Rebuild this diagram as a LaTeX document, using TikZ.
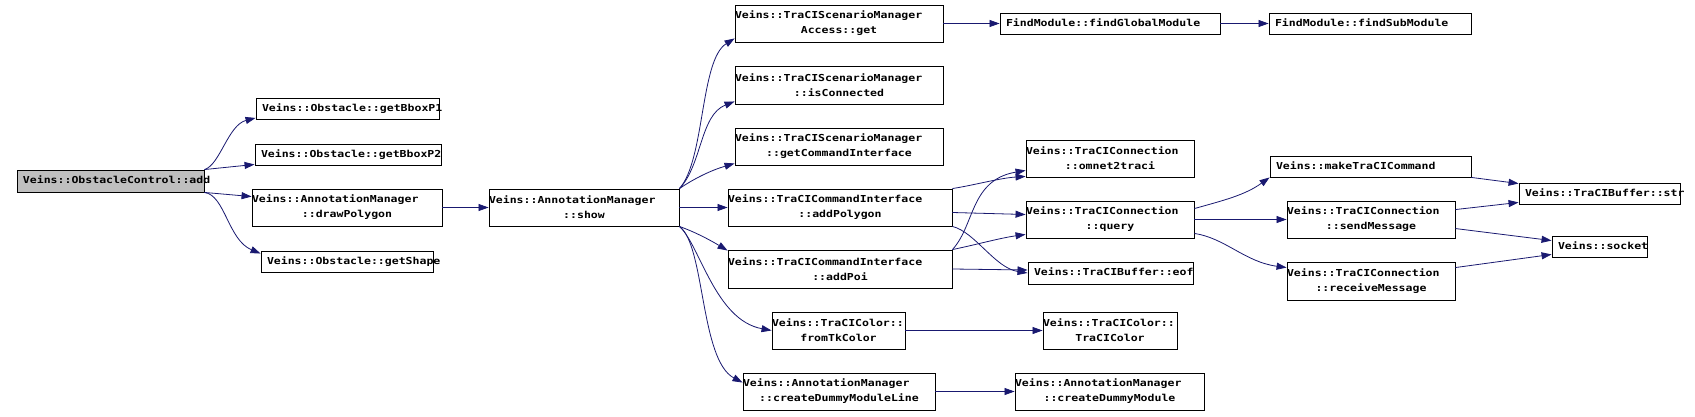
\documentclass[tikz,border=0pt]{standalone}
\usepackage{fontspec}
\usepackage{xcolor}
\usetikzlibrary{arrows.meta}

\newfontfamily\dotfont{DejaVu Sans Mono}[FakeStretch=1.2]
\definecolor{edgeblue}{RGB}{25,25,112}
\definecolor{nodegray}{RGB}{191,191,191}
\newcommand{\ctr}[1]{\makebox[\linewidth]{#1}}

\tikzset{
  fn/.style={draw=black, line width=0.9pt, inner ysep=0pt, align=left,
    font=\dotfont\bfseries\fontsize{9.6}{15}\selectfont},
  fnone/.style={fn, inner xsep=6pt, minimum height=21pt, text height=7.5pt, text depth=2pt},
  fntwo/.style={fn, inner xsep=0pt, minimum height=37pt},
  call/.style={draw=edgeblue, line width=0.8pt, -{Triangle[length=10pt,width=7pt]}}
}

\begin{document}
\begin{tikzpicture}[x=1pt,y=-1pt]
\useasboundingbox (0,0) rectangle (1695,417);

% caller
\node[fnone, fill=nodegray, text width=175pt, minimum height=22pt] (add) at (110.5,181) {Veins::ObstacleControl::add};

% first level
\node[fnone, text width=171pt] (bboxA) at (347.5,109) {Veins::Obstacle::getBboxP1};
\node[fnone, text width=174pt] (bboxB) at (348,154.5) {Veins::Obstacle::getBboxP2};
\node[fntwo, text width=190pt] (drawPoly) at (347,207.5) {Veins::AnnotationManager\\\ctr{::drawPolygon}};
\node[fnone, text width=160pt] (shape) at (347,261.5) {Veins::Obstacle::getShape};

\node[fntwo, text width=190pt] (show) at (584,207.5) {Veins::AnnotationManager\\\ctr{::show}};

% called from show
\node[fntwo, text width=208pt] (get) at (839,23.5) {Veins::TraCIScenarioManager\\\ctr{Access::get}};
\node[fntwo, text width=208pt, minimum height=38pt] (isConn) at (839,85) {Veins::TraCIScenarioManager\\\ctr{::isConnected}};
\node[fntwo, text width=208pt] (getCI) at (839,146.5) {Veins::TraCIScenarioManager\\\ctr{::getCommandInterface}};
\node[fntwo, text width=224pt] (addPolygon) at (840,207.5) {Veins::TraCICommandInterface\\\ctr{::addPolygon}};
\node[fntwo, text width=224pt, minimum height=38pt] (addPoi) at (840,269) {Veins::TraCICommandInterface\\\ctr{::addPoi}};
\node[fntwo, text width=133pt] (fromTk) at (838.5,330.5) {Veins::TraCIColor::\\\ctr{fromTkColor}};
\node[fntwo, text width=192pt] (createDML) at (839,391.5) {Veins::AnnotationManager\\\ctr{::createDummyModuleLine}};

\node[fnone, text width=208pt] (findGlobal) at (1110,23.5) {FindModule::findGlobalModule};
\node[fnone, text width=190pt] (findSub) at (1370,23.5) {FindModule::findSubModule};

\node[fntwo, text width=168pt] (omnet) at (1110,158.5) {Veins::TraCIConnection\\\ctr{::omnet2traci}};
\node[fntwo, text width=168pt] (query) at (1110,219.5) {Veins::TraCIConnection\\\ctr{::query}};
\node[fnone, text width=153pt, minimum height=22pt] (eof) at (1110.5,273) {Veins::TraCIBuffer::eof};
\node[fntwo, text width=134pt] (tkColor) at (1110,330.5) {Veins::TraCIColor::\\\ctr{TraCIColor}};
\node[fntwo, text width=189pt] (createDM) at (1109.5,391.5) {Veins::AnnotationManager\\\ctr{::createDummyModule}};

% called from query
\node[fnone, text width=189pt] (makeCmd) at (1370.5,166.5) {Veins::makeTraCICommand};
\node[fntwo, text width=168pt] (sendMsg) at (1371,219.5) {Veins::TraCIConnection\\\ctr{::sendMessage}};
\node[fntwo, text width=168pt, minimum height=38pt] (recvMsg) at (1371,281) {Veins::TraCIConnection\\\ctr{::receiveMessage}};

\node[fnone, text width=149pt] (str) at (1599.5,193.5) {Veins::TraCIBuffer::str};
\node[fnone, text width=83pt] (socket) at (1599.5,246.5) {Veins::socket};

% edges
\draw[call] (add.north east) .. controls (220,165) and (228,125) .. ([yshift=2pt]bboxA.south west);
\draw[call] (add.north east) -- ([yshift=1pt]bboxB.south west);
\draw[call] (add.south east) -- ([yshift=-8pt]drawPoly.north west);
\draw[call] (add.south east) .. controls (225,195) and (228,240) .. ([yshift=-3pt]shape.north west);
\draw[call] (drawPoly.east) -- (show.west);

\draw[call] (show.north east) .. controls (705,160) and (700,60) .. ([yshift=4pt]get.south west);
\draw[call] (show.north east) .. controls (702,165) and (700,115) .. ([yshift=3pt]isConn.south west);
\draw[call] (show.north east) .. controls (695,178) and (712,170) .. ([yshift=2pt]getCI.south west);
\draw[call] (show.east) -- (addPolygon.west);
\draw[call] (show.south east) .. controls (695,232) and (710,240) .. ([yshift=-1pt]addPoi.north west);
\draw[call] (show.south east) .. controls (700,245) and (715,320) .. (fromTk.west);
\draw[call] (show.south east) .. controls (705,245) and (700,360) .. ([yshift=-10pt]createDML.north west);

\draw[call] (get.east) -- (findGlobal.west);
\draw[call] (findGlobal.east) -- (findSub.west);

\draw[call] (addPolygon.north east) .. controls (975,185) and (1000,178) .. ([yshift=1pt]omnet.south west);
\draw[call] ([yshift=-5pt]addPolygon.east) -- ([yshift=5pt]query.west);
\draw[call] (addPolygon.south east) .. controls (975,232) and (995,268) .. (eof.west);
\draw[call] (addPoi.north east) .. controls (975,225) and (970,180) .. ([yshift=7pt]omnet.south west);
\draw[call] (addPoi.north east) .. controls (975,245) and (1000,238) .. ([yshift=4pt]query.south west);
\draw[call] (addPoi.east) -- ([yshift=3pt]eof.west);

\draw[call] ([yshift=-8pt]query.north east) .. controls (1225,200) and (1245,195) .. (makeCmd.south west);
\draw[call] (query.east) -- (sendMsg.west);
\draw[call] ([yshift=5pt]query.south east) .. controls (1225,238) and (1245,262) .. ([yshift=-6pt]recvMsg.north west);

\draw[call] (makeCmd.south east) -- ([yshift=-1pt]str.north west);
\draw[call] ([yshift=-9pt]sendMsg.north east) -- ([yshift=2pt]str.south west);
\draw[call] ([yshift=-28pt]sendMsg.north east) -- ([yshift=-5pt]socket.north west);
\draw[call] ([yshift=-6pt]recvMsg.north east) -- ([yshift=3pt]socket.south west);

\draw[call] (fromTk.east) -- (tkColor.west);
\draw[call] (createDML.east) -- (createDM.west);
\end{tikzpicture}
\end{document}
